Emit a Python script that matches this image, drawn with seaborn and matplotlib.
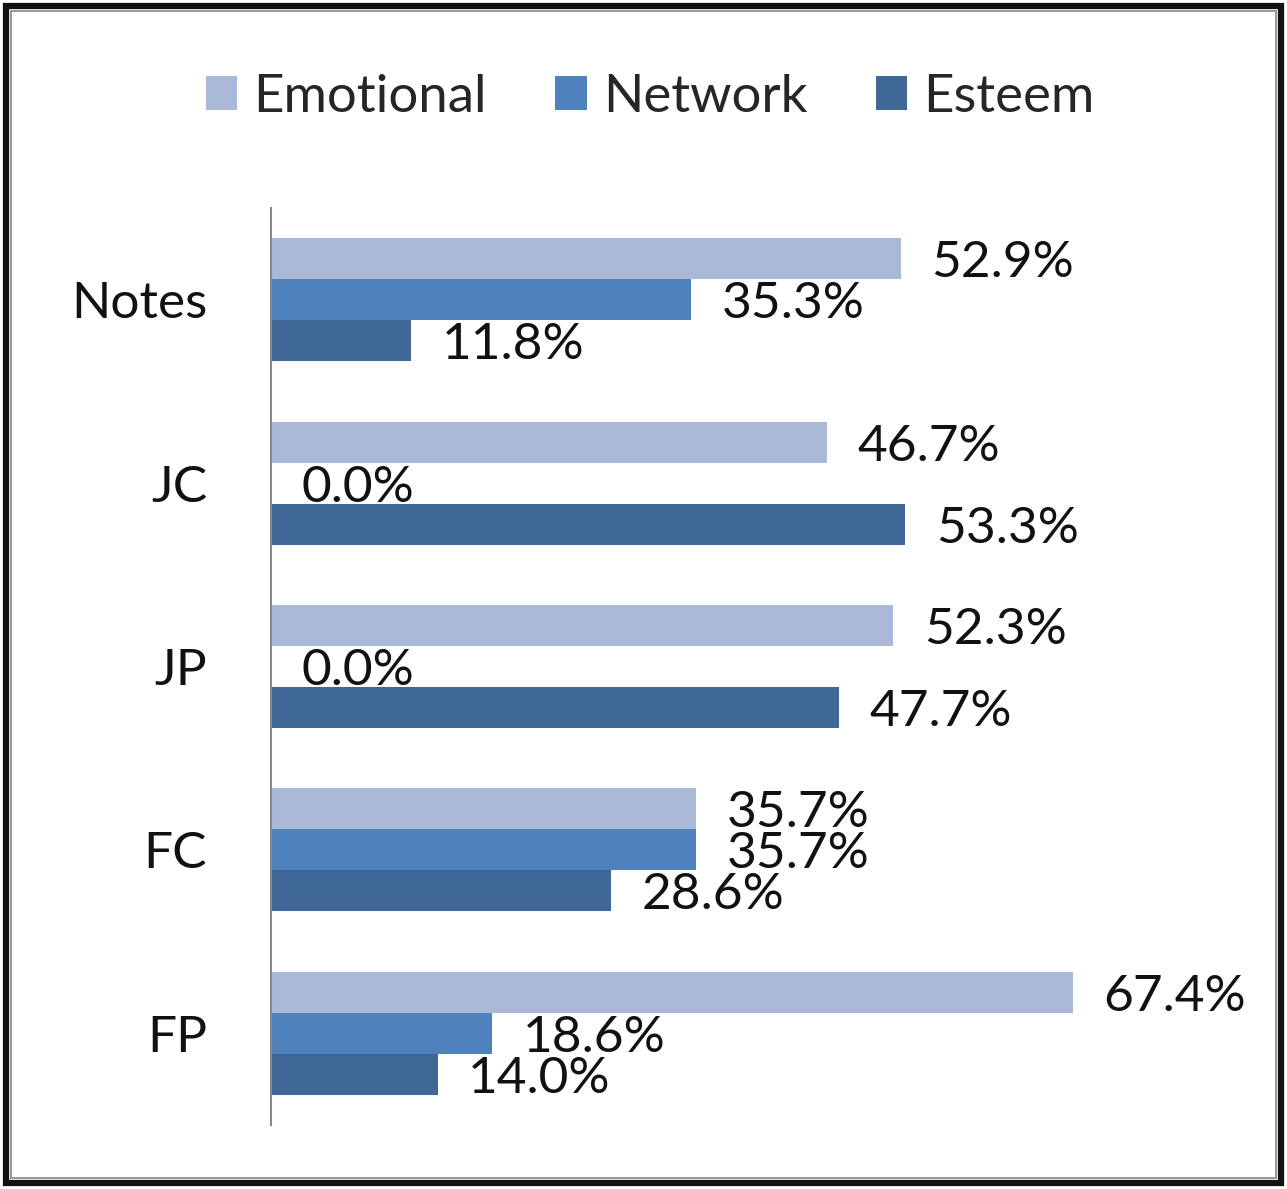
import pandas as pd
import matplotlib
matplotlib.use("Agg")
import matplotlib.pyplot as plt
import seaborn as sns
from matplotlib.patches import Rectangle

# data
categories = ["Notes", "JC", "JP", "FC", "FP"]
series = ["Emotional", "Network", "Esteem"]
emotional = [52.9, 46.7, 52.3, 35.7, 67.4]
network = [35.3, 0.0, 0.0, 35.7, 18.6]
esteem = [11.8, 53.3, 47.7, 28.6, 14.0]
colors = ["#AAB9D7", "#4F81BD", "#3F6797"]

rows = []
for name, vals in zip(series, [emotional, network, esteem]):
    for cat, v in zip(categories, vals):
        rows.append({"category": cat, "series": name, "value": v})
df = pd.DataFrame(rows)

sns.set_theme(style="white")
plt.rcParams["font.family"] = ["Lato", "DejaVu Sans"]

fig = plt.figure(figsize=(12.87, 11.89), dpi=100)
ax = fig.add_axes([0.2106, 0.0538, 0.7397, 0.7713])

sns.barplot(data=df, y="category", x="value", hue="series", orient="h",
            order=categories, hue_order=series, palette=colors,
            width=0.67, saturation=1, linewidth=0, ax=ax, legend=True)

for cont in ax.containers:
    labels = ax.bar_label(cont, fmt="%.1f%%", padding=22, fontsize=37,
                          color="#111111")
    for t in labels:
        t.set_va("center_baseline")

ax.set_xlim(0, 80)
ax.set_ylim(4.5, -0.5)
ax.set_xlabel("")
ax.set_ylabel("")
ax.set_xticks([])
ax.tick_params(axis="y", length=0, pad=46, labelsize=37, labelcolor="#111111")
for s in ["top", "right", "bottom"]:
    ax.spines[s].set_visible(False)
ax.spines["left"].set_color("#888888")
ax.spines["left"].set_linewidth(1.5)

ax.legend_.remove()
handles, labels = ax.get_legend_handles_labels()
fig.legend(handles[:3], labels[:3], loc="center", ncol=3, frameon=False,
           bbox_to_anchor=(650 / 1287, 1 - 97 / 1189), fontsize=38,
           handlelength=0.6, handleheight=0.6, handletextpad=0.3,
           columnspacing=1.3)

# picture frame around the chart
fig.patches.append(Rectangle((6 / 1287, 6 / 1189), 1 - 12 / 1287, 1 - 12 / 1189,
                             transform=fig.transFigure, fill=False,
                             edgecolor="#111111", linewidth=4.5))
fig.patches.append(Rectangle((11 / 1287, 11 / 1189), 1 - 22 / 1287, 1 - 22 / 1189,
                             transform=fig.transFigure, fill=False,
                             edgecolor="#999999", linewidth=1.5))

fig.savefig("out.png", dpi=100)
